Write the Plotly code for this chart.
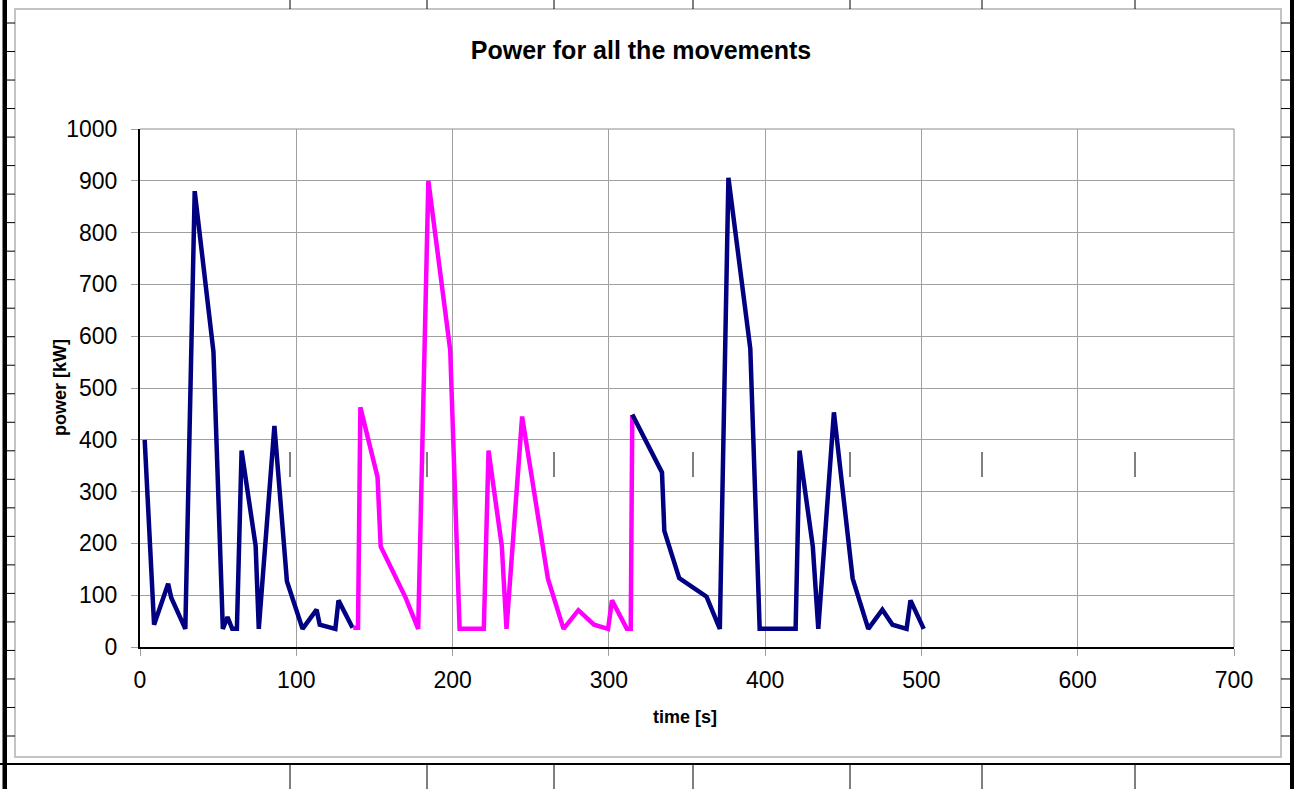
import plotly.graph_objects as go

# ---- data ----
t_move1 = [3, 9, 18, 20, 29, 35, 47, 53, 56, 59, 62, 65, 74, 76, 86, 94, 104, 113, 115, 125, 127, 136]
p_move1 = [400, 43, 122, 95, 35, 880, 570, 35, 58, 35, 35, 379, 195, 35, 427, 127, 35, 72, 43, 35, 90, 37]

t_move2 = [136.5, 139.5, 141, 152, 154, 164, 170, 178, 184.5, 198.5, 204.5, 220, 223, 231.5, 234.5, 244.5, 261, 271, 280.5, 290.5, 299.5, 302, 311.5, 314, 315]
p_move2 = [37, 37, 463, 328, 194, 130, 95, 35, 900, 573, 35, 35, 379, 195, 35, 445, 132, 35, 71, 43, 35, 90, 35, 35, 448]

t_move3 = [315, 334, 335.5, 345, 362.5, 371, 376.5, 390.5, 396.5, 419.5, 422, 430.5, 434, 444, 456, 466, 475, 481.5, 490.5, 493, 501.5]
p_move3 = [449, 337, 224, 133, 97, 35, 906, 576, 35, 35, 379, 194, 35, 453, 132, 35, 72, 43, 35, 90, 35]

x_ticks = [0, 100, 200, 300, 400, 500, 600, 700]
y_ticks = [0, 100, 200, 300, 400, 500, 600, 700, 800, 900, 1000]

NAVY = "#000080"
MAGENTA = "#FF00FF"
FONT = "Liberation Sans, Arial, sans-serif"

W, H = 1294, 789
L, R, T, B = 140, 1234, 129, 647  # plot area in pixels


def px(xp):
    return (xp - L) / (R - L)


def py(yp):
    return (B - yp) / (B - T)


fig = go.Figure()
for t, p, c in [(t_move1, p_move1, NAVY), (t_move2, p_move2, MAGENTA), (t_move3, p_move3, NAVY)]:
    fig.add_trace(go.Scatter(x=t, y=p, mode="lines", line=dict(color=c, width=4.5), showlegend=False,
                             hoverinfo="x+y"))

shapes = []
# chart area box
shapes.append(dict(type="rect", xref="paper", yref="paper", x0=px(15), x1=px(1281), y0=py(757), y1=py(9),
                   line=dict(color="#c4c4c4", width=2), fillcolor="rgba(0,0,0,0)", layer="below"))
# thick sheet borders
shapes.append(dict(type="rect", xref="paper", yref="paper", x0=px(2.5), x1=px(7), y0=py(789), y1=py(0),
                   line=dict(width=0), fillcolor="black"))
shapes.append(dict(type="rect", xref="paper", yref="paper", x0=px(1290), x1=px(1294), y0=py(789), y1=py(0),
                   line=dict(width=0), fillcolor="black"))
shapes.append(dict(type="line", xref="paper", yref="paper", x0=px(0), x1=px(1294), y0=py(764), y1=py(764),
                   line=dict(color="black", width=2)))
# row ticks on both sides
row_y = [23 + 28.52 * k for k in range(26)]
for ry in row_y:
    shapes.append(dict(type="line", xref="paper", yref="paper", x0=px(7), x1=px(15), y0=py(ry), y1=py(ry),
                       line=dict(color="black", width=1)))
    shapes.append(dict(type="line", xref="paper", yref="paper", x0=px(1281), x1=px(1290), y0=py(ry), y1=py(ry),
                       line=dict(color="black", width=1)))
# column lines
col_x = [290, 427, 554, 693, 850, 982, 1135]
for cx in col_x:
    shapes.append(dict(type="line", xref="paper", yref="paper", x0=px(cx), x1=px(cx), y0=py(0), y1=py(9),
                       line=dict(color="black", width=1)))
    shapes.append(dict(type="line", xref="paper", yref="paper", x0=px(cx), x1=px(cx), y0=py(764), y1=py(789),
                       line=dict(color="black", width=1)))
    shapes.append(dict(type="line", xref="paper", yref="paper", x0=px(cx), x1=px(cx), y0=py(452), y1=py(477),
                       line=dict(color="black", width=1)))
# plot area top/right border
shapes.append(dict(type="line", xref="paper", yref="paper", x0=0, x1=1, y0=1, y1=1,
                   line=dict(color="#8c8c8c", width=1), layer="below"))
shapes.append(dict(type="line", xref="paper", yref="paper", x0=1, x1=1, y0=0, y1=1,
                   line=dict(color="#8c8c8c", width=1), layer="below"))

annotations = [
    dict(text="<b>power [kW]</b>", xref="paper", yref="paper", x=px(60), y=py(388), showarrow=False,
         textangle=-90, font=dict(family=FONT, size=18, color="black"), xanchor="center", yanchor="middle"),
    dict(text="<b>time [s]</b>", xref="paper", yref="paper", x=px(685), y=py(717), showarrow=False,
         font=dict(family=FONT, size=18, color="black"), xanchor="center", yanchor="middle"),
]

fig.update_layout(
    width=W, height=H, autosize=False,
    margin=dict(l=L, r=W - R, t=T, b=H - B, pad=0),
    paper_bgcolor="white", plot_bgcolor="white",
    title=dict(text="<b>Power for all the movements</b>", x=641 / W, y=1 - 50 / H, xanchor="center",
               yanchor="middle", xref="container", yref="container",
               font=dict(family=FONT, size=25, color="black")),
    shapes=shapes, annotations=annotations,
    font=dict(family=FONT, color="black"),
)
fig.update_xaxes(range=[0, 700], tickvals=x_ticks, ticktext=[str(v) for v in x_ticks],
                 showgrid=True, gridcolor="#a0a0a0", gridwidth=1,
                 showline=True, linecolor="black", linewidth=2,
                 ticks="outside", ticklen=7, tickcolor="#a0a0a0", tickwidth=1,
                 tickfont=dict(family=FONT, size=23, color="black"), ticklabelstandoff=4,
                 zeroline=False, fixedrange=True)
fig.update_yaxes(range=[0, 1000], tickvals=y_ticks, ticktext=[str(v) for v in y_ticks],
                 showgrid=True, gridcolor="#a0a0a0", gridwidth=1,
                 showline=True, linecolor="black", linewidth=2,
                 ticks="outside", ticklen=7, tickcolor="#a0a0a0", tickwidth=1,
                 tickfont=dict(family=FONT, size=23, color="black"), ticklabelstandoff=9,
                 zeroline=False, fixedrange=True)

fig.write_html("out.html", config={"displayModeBar": False},
               post_script="document.body.style.margin='0';document.body.style.overflow='hidden';")
